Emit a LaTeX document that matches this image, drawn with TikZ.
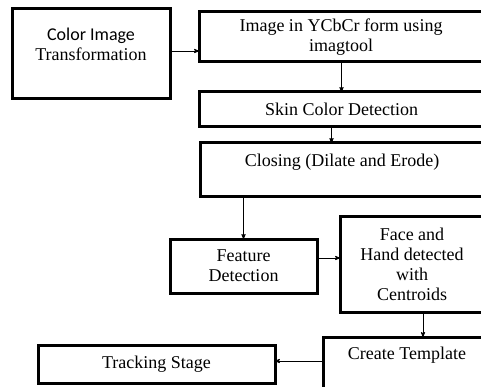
\documentclass[tikz,border=0pt]{standalone}
\usepackage{fontspec}
\setmainfont{Liberation Serif}
\newfontfamily\calibrifont{Carlito}
\usepackage{tikz}
\usetikzlibrary{positioning,arrows}

\begin{document}
\begin{tikzpicture}[x=1pt,y=-1pt]
		\tikzstyle{box_style} = [rectangle,draw=black,line width=3pt,align=center,inner sep=0pt,outer sep=0pt,font=\fontsize{18}{20}\selectfont]
		\tikzstyle{edge_style} = [draw=black,line width=0.8pt,->,>=stealth']
		\clip (0,0) rectangle (481,387);
		\node[box_style,minimum width=158pt,minimum height=90pt] (v1) at (91,54) {{\calibrifont Color Image}\\Transformation\\\mbox{}};
		\node[box_style,minimum width=284pt,minimum height=50pt] (v2) at (341,37) {Image in YCbCr form using\\imagtool};
		\node[box_style,minimum width=285pt,minimum height=35pt] (v3) at (341.5,109.5) {Skin Color Detection};
		\node[box_style,minimum width=284pt,minimum height=54pt] (v4) at (342,170) {Closing (Dilate and Erode)\\\mbox{}};
		\node[box_style,minimum width=147pt,minimum height=54pt] (v5) at (243.5,266) {Feature\\Detection};
		\node[box_style,minimum width=144pt,minimum height=96pt] (v6) at (412,264) {Face and\\Hand detected\\with\\Centroids};
		\node[box_style,minimum width=168pt,minimum height=52pt] (v7) at (407,363) {Create Template\\\mbox{}};
		\node[box_style,minimum width=237pt,minimum height=38pt] (v8) at (156.5,364) {Tracking Stage};
		\draw[edge_style] ([yshift=3pt]v1.east) -- ([yshift=-14pt]v2.west);
		\draw[edge_style] (v3 |- v2.south) -- (v3.north);
		\draw[edge_style] ([xshift=-10pt]v3.south) -- ([xshift=-10pt]v3.south |- v4.north);
		\draw[edge_style] (v5 |- v4.south) -- (v5.north);
		\draw[edge_style] ([yshift=8pt]v5.east) -- ([yshift=8pt]v5.east -| v6.west);
		\draw[edge_style] ([xshift=11pt]v6.south) -- ([xshift=11pt]v6.south |- v7.north);
		\draw[edge_style] ([yshift=3pt]v8.east -| v7.west) -- ([yshift=3pt]v8.east);
\end{tikzpicture}
\end{document}
